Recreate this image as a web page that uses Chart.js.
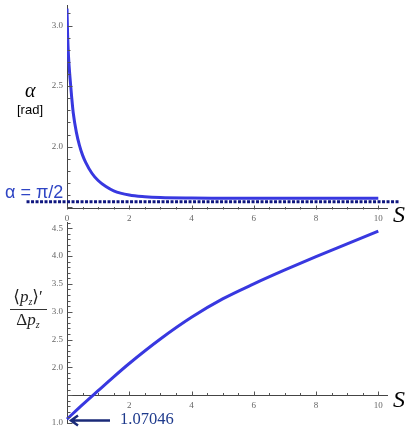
<!DOCTYPE html>
<html>
<head>
<meta charset="utf-8">
<script src="https://cdn.jsdelivr.net/npm/chart.js@4.4.0/dist/chart.umd.min.js"></script>
<style>
  body { margin: 0; background: #fff; width: 415px; height: 436px; position: relative; overflow: hidden; }
  canvas { position: absolute; left: 0; }
  .lbl { position: absolute; white-space: nowrap; line-height: 1; }
  .serif { font-family: "Liberation Serif", "DejaVu Serif", serif; }
  .sub { font-size: 10px; vertical-align: -3px; font-style: italic; }
</style>
</head>
<body>
<canvas id="chartAlpha" width="415" height="224" style="top:0"></canvas>
<canvas id="chartPz" width="415" height="218" style="top:218px"></canvas>

<!-- annotations -->
<div class="lbl serif" style="left:25px;top:80px;font-size:20px;font-style:italic">α</div>
<div class="lbl" style="left:17px;top:103px;font-size:13px;font-family:'Liberation Sans',sans-serif">[rad]</div>
<div class="lbl" style="left:5px;top:183px;font-size:18px;font-family:'Liberation Sans',sans-serif;color:#2f45c4">α = π/2</div>
<div class="lbl serif" style="left:393px;top:202px;font-size:24px;font-style:italic">S</div>
<div class="lbl serif" style="left:393px;top:387px;font-size:24px;font-style:italic">S</div>
<div class="lbl serif" style="left:120px;top:411px;font-size:16.5px;color:#1e3a8c">1.07046</div>
<div class="lbl serif" style="left:7px;top:288px;font-size:17px;width:42px;text-align:center;color:#222">⟨<i>p</i><span class="sub">z</span>⟩′</div>
<div class="lbl" style="left:10px;top:309px;width:37px;height:0;border-top:1px solid #333"></div>
<div class="lbl serif" style="left:7px;top:311px;font-size:17px;width:42px;text-align:center;color:#222">Δ<i>p</i><span class="sub">z</span></div>

<script>
// Courbe du haut : angle alpha en fonction de s
const sAlpha = [0, 0.02, 0.05, 0.1, 0.15, 0.2, 0.3, 0.4, 0.5, 0.6, 0.8, 1.0, 1.25, 1.5, 2, 2.5, 3, 4, 5, 6, 7, 8, 9, 10];
const alphaValues = [3.14, 2.92, 2.74, 2.56, 2.41, 2.28, 2.12, 2.01, 1.93, 1.87, 1.78, 1.72, 1.67, 1.635, 1.6, 1.586, 1.579, 1.575, 1.574, 1.573, 1.573, 1.573, 1.573, 1.573];

// Ligne pointillée alpha = pi/2 (déborde du cadre)
const piLineX = [-1.3, 10.7];
const piLineY = [1.545, 1.545];

// Courbe du bas : <pz>' / delta pz en fonction de s
const sPz = [0, 0.5, 1, 1.5, 2, 3, 4, 5, 6, 7, 8, 9, 10];
const pzValues = [1.07046, 1.33, 1.58, 1.83, 2.07, 2.51, 2.9, 3.23, 3.5, 3.75, 3.99, 4.22, 4.45];
const pzStart = 1.07046;

const xTickLabels = ["0", "2", "4", "6", "8", "10"];

const tickFont = { family: "Liberation Serif", size: 9 };
const tickColor = "#666";

// petits traits de graduation vers l'intérieur (style Mathematica)
const innerTicks = {
  id: "innerTicks",
  afterDatasetsDraw(chart, args, opts) {
    if (opts.yFrom === undefined) return;
    const ctx = chart.ctx;
    const xs = chart.scales.x;
    const ys = chart.scales.y;
    const axisY = Math.round(ys.getPixelForValue(opts.xAxisAt)) + 0.5;
    const axisX = Math.round(xs.getPixelForValue(0)) + 0.5;
    ctx.save();
    ctx.strokeStyle = "#555";
    ctx.lineWidth = 1;
    ctx.beginPath();
    for (let i = 0; i <= 20; i++) {
      const px = Math.round(xs.getPixelForValue(i / 2)) + 0.5;
      const len = i % 4 === 0 ? 4 : 2.5;
      ctx.moveTo(px, axisY);
      ctx.lineTo(px, axisY - len);
    }
    for (let i = opts.yFrom; i <= opts.yTo; i++) {
      const py = Math.round(ys.getPixelForValue(i / 10)) + 0.5;
      const len = i % 5 === 0 ? 5 : 3;
      ctx.moveTo(axisX, py);
      ctx.lineTo(axisX + len, py);
    }
    ctx.stroke();
    ctx.restore();
  },
};

// flèche qui pointe sur la valeur de départ
const arrowNote = {
  id: "arrowNote",
  afterDatasetsDraw(chart, args, opts) {
    if (opts.value === undefined) return;
    const ctx = chart.ctx;
    const x0 = chart.scales.x.getPixelForValue(0) + 3;
    const y0 = chart.scales.y.getPixelForValue(opts.value) + 1.5;
    ctx.save();
    ctx.strokeStyle = "#1a2a78";
    ctx.lineWidth = 2.5;
    ctx.beginPath();
    ctx.moveTo(x0 + 2, y0);
    ctx.lineTo(x0 + 40, y0);
    ctx.moveTo(x0 + 8, y0 - 5);
    ctx.lineTo(x0 + 1, y0);
    ctx.lineTo(x0 + 8, y0 + 5);
    ctx.stroke();
    ctx.restore();
  },
};

Chart.register(innerTicks, arrowNote);

function toPoints(xs, ys) {
  return xs.map((x, i) => ({ x: x, y: ys[i] }));
}

function xTicks(showZero) {
  return {
    stepSize: 2,
    includeBounds: false,
    maxRotation: 0,
    autoSkip: false,
    padding: 5,
    font: tickFont,
    color: tickColor,
    callback: (value) => {
      if (!showZero && value === 0) return "";
      return xTickLabels[Math.round(value / 2)];
    },
  };
}

// la largeur de l'axe y est fixée, et on enlève la marge ajoutée pour les étiquettes
function fixYAxis(scale) {
  scale.width = 67;
  scale.paddingTop = 0;
  scale.paddingBottom = 0;
}

function buildAlphaChart() {
  const ctx = document.getElementById("chartAlpha").getContext("2d");
  new Chart(ctx, {
    type: "line",
    data: {
      datasets: [
        {
          data: toPoints(piLineX, piLineY),
          borderColor: "#0f1780",
          borderWidth: 3,
          borderDash: [3, 1.5],
          pointRadius: 0,
          clip: false,
        },
        {
          data: toPoints(sAlpha, alphaValues),
          borderColor: "#3838e0",
          borderWidth: 3,
          pointRadius: 0,
          cubicInterpolationMode: "monotone",
        },
      ],
    },
    options: {
      responsive: false,
      animation: false,
      layout: { padding: { top: 5, right: 28, left: 0, bottom: 0 } },
      plugins: {
        legend: { display: false },
        tooltip: { enabled: false },
        innerTicks: { xAxisAt: 1.489, yFrom: 15, yTo: 31 },
      },
      scales: {
        x: {
          type: "linear",
          min: 0,
          max: 10.28,
          grid: { display: false, drawTicks: false },
          border: { color: "#444", width: 1 },
          ticks: xTicks(true),
          afterFit: (scale) => { scale.height = 15.5; },
        },
        y: {
          min: 1.489,
          max: 3.17,
          grid: { display: false, drawTicks: false },
          border: { color: "#444", width: 1 },
          ticks: {
            stepSize: 0.5,
            includeBounds: false,
            padding: 4,
            font: tickFont,
            color: tickColor,
            callback: (value) => (value < 1.9 ? "" : value.toFixed(1)),
          },
          afterFit: fixYAxis,
        },
      },
    },
  });
}

function buildPzChart() {
  const ctx = document.getElementById("chartPz").getContext("2d");
  new Chart(ctx, {
    type: "line",
    data: {
      datasets: [
        {
          data: toPoints(sPz, pzValues),
          borderColor: "#3838e0",
          borderWidth: 3,
          pointRadius: 0,
          cubicInterpolationMode: "monotone",
          clip: false,
        },
      ],
    },
    options: {
      responsive: false,
      animation: false,
      layout: { padding: { top: 4.7, right: 28, left: 0, bottom: 13 } },
      plugins: {
        legend: { display: false },
        tooltip: { enabled: false },
        innerTicks: { xAxisAt: 1.5, yFrom: 10, yTo: 46 },
        arrowNote: { value: pzStart },
      },
      scales: {
        x: {
          type: "linear",
          position: { y: 1.5 },
          min: 0,
          max: 10.28,
          grid: { display: false, drawTicks: false },
          border: { color: "#444", width: 1 },
          ticks: xTicks(false),
        },
        y: {
          min: 1.0,
          max: 4.6,
          grid: { display: false, drawTicks: false },
          border: { color: "#444", width: 1 },
          ticks: {
            stepSize: 0.5,
            includeBounds: false,
            padding: 4,
            font: tickFont,
            color: tickColor,
            callback: (value) => (Math.abs(value - 1.5) < 0.01 ? "" : value.toFixed(1)),
          },
          afterFit: fixYAxis,
        },
      },
    },
  });
}

buildAlphaChart();
buildPzChart();
</script>
</body>
</html>
